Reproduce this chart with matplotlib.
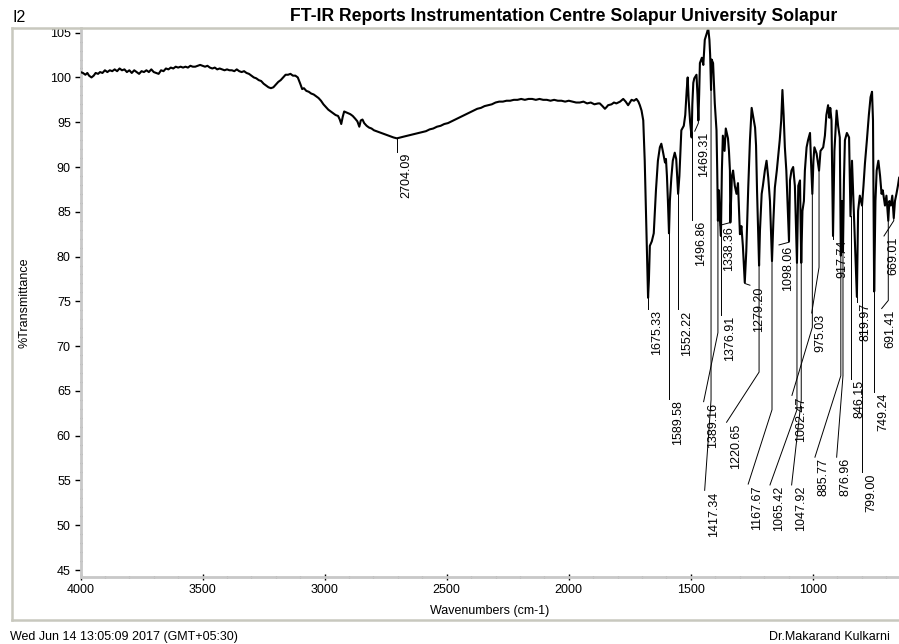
import numpy as np
import matplotlib
matplotlib.use("Agg")
import matplotlib.pyplot as plt
from matplotlib.lines import Line2D
from matplotlib.transforms import offset_copy

plt.rcParams['font.family'] = ['Liberation Sans', 'DejaVu Sans']

# spectrum: wavenumber (cm-1) and %T
wavenumber = [
    4000, 3990, 3980, 3972, 3965, 3955, 3946, 3938, 3928, 3920, 3910, 3900, 3890, 3880,
    3870, 3860, 3850, 3840, 3830, 3820, 3810, 3800, 3790, 3780, 3770, 3760, 3750, 3740,
    3730, 3720, 3710, 3700, 3690, 3680, 3670, 3660, 3650, 3640, 3630, 3620, 3610, 3600,
    3590, 3580, 3570, 3560, 3550, 3540, 3530, 3520, 3510, 3500, 3490, 3480, 3470, 3460,
    3450, 3440, 3430, 3420, 3410, 3400, 3390, 3380, 3370, 3360, 3350, 3340, 3330, 3320,
    3310, 3300, 3290, 3280, 3270, 3260, 3250, 3240, 3230, 3220, 3210, 3200, 3190, 3180,
    3170, 3160, 3150, 3140, 3130, 3120, 3110, 3100, 3092, 3085, 3075, 3065, 3055, 3045,
    3035, 3025, 3015, 3005, 2995, 2985, 2975, 2965, 2955, 2945, 2938, 2932, 2926, 2920,
    2912, 2905, 2895, 2885, 2875, 2866, 2858, 2852, 2845, 2838, 2828, 2818, 2808, 2798,
    2788, 2778, 2768, 2758, 2748, 2738, 2728, 2718, 2704.09, 2690, 2675, 2660, 2645, 2630,
    2615, 2600, 2585, 2570, 2555, 2540, 2525, 2510, 2495, 2480, 2465, 2450, 2435, 2420,
    2405, 2390, 2375, 2360, 2345, 2330, 2315, 2300, 2285, 2270, 2255, 2240, 2225, 2210,
    2195, 2180, 2165, 2150, 2135, 2120, 2105, 2090, 2075, 2060, 2045, 2030, 2015, 2000,
    1985, 1970, 1955, 1940, 1925, 1910, 1895, 1880, 1873, 1862, 1852, 1845, 1839, 1825,
    1815, 1805, 1790, 1777, 1767, 1757, 1750, 1743, 1733, 1723, 1715, 1709, 1702, 1695,
    1689, 1682, 1678, 1675.33, 1672, 1668, 1660, 1652, 1643, 1635, 1627, 1621, 1615, 1606,
    1602, 1598, 1594, 1589.58, 1586, 1580, 1574, 1566, 1560, 1556, 1552.22, 1547, 1539, 1529,
    1523, 1517, 1513, 1509, 1503, 1496.86, 1494, 1490, 1486, 1477, 1473, 1469.31, 1466, 1463,
    1455, 1449, 1443, 1434, 1429, 1424, 1421, 1417.34, 1415, 1409, 1402, 1395, 1392, 1389.16,
    1385, 1382, 1376.91, 1373, 1369, 1362, 1357, 1348, 1344, 1340, 1338.36, 1332, 1327, 1320,
    1313, 1307, 1299, 1293, 1287, 1279.20, 1273, 1265, 1258, 1251, 1246, 1237, 1233, 1229,
    1220.65, 1217, 1210, 1205, 1197, 1190, 1183, 1176, 1167.67, 1162, 1156, 1148, 1136, 1130,
    1125, 1120, 1115, 1109, 1098.06, 1094, 1088, 1081, 1074, 1065.42, 1060, 1053, 1047.92, 1043,
    1037, 1033, 1026, 1020, 1012, 1008, 1002.47, 998, 994, 985, 975.03, 969, 958, 951,
    945, 938, 933, 929, 924, 917.74, 912, 903, 897, 890, 885.77, 881, 876.96, 873,
    869, 861, 852, 846.15, 840, 834, 828, 819.97, 815, 808, 799.00, 793, 787, 779,
    771, 764, 758, 754, 749.24, 744, 739, 732, 725, 719, 714, 705, 699, 691.41,
    687, 681, 675, 669.01, 664, 658, 652, 647,
]
transmittance = [
    100.6, 100.5, 100.3, 100.5, 100.2, 100.0, 100.2, 100.5, 100.4, 100.6, 100.5, 100.8, 100.6, 100.8,
    100.7, 100.9, 100.7, 101.0, 100.8, 100.9, 100.6, 100.8, 100.5, 100.8, 100.6, 100.4, 100.7, 100.6,
    100.8, 100.6, 100.9, 100.6, 100.5, 100.4, 100.8, 100.7, 101.0, 100.9, 101.1, 101.0, 101.2, 101.1,
    101.2, 101.1, 101.2, 101.1, 101.3, 101.2, 101.2, 101.3, 101.4, 101.3, 101.2, 101.3, 101.1, 101.0,
    101.1, 100.9, 101.0, 100.9, 100.8, 100.9, 100.8, 100.8, 100.7, 100.9, 100.7, 100.6, 100.7, 100.5,
    100.4, 100.2, 100.0, 99.9, 99.7, 99.6, 99.3, 99.1, 98.9, 98.8, 98.9, 99.2, 99.5, 99.7,
    100.0, 100.3, 100.3, 100.4, 100.2, 100.2, 100.0, 99.3, 98.7, 98.8, 98.5, 98.4, 98.2, 98.1,
    97.9, 97.7, 97.4, 97.0, 96.7, 96.4, 96.2, 96.0, 95.8, 95.7, 95.3, 94.8, 95.6, 96.2,
    96.1, 96.0, 95.9, 95.7, 95.4, 95.1, 94.5, 95.2, 95.3, 94.9, 94.6, 94.4, 94.3, 94.1,
    94.0, 93.9, 93.8, 93.7, 93.6, 93.5, 93.4, 93.3, 93.2, 93.3, 93.4, 93.5, 93.6, 93.7,
    93.8, 93.9, 94.0, 94.2, 94.3, 94.5, 94.6, 94.8, 94.9, 95.1, 95.3, 95.5, 95.7, 95.9,
    96.1, 96.3, 96.5, 96.6, 96.8, 96.9, 97.0, 97.2, 97.3, 97.3, 97.4, 97.4, 97.5, 97.5,
    97.6, 97.5, 97.6, 97.6, 97.5, 97.6, 97.5, 97.5, 97.4, 97.5, 97.4, 97.4, 97.3, 97.4,
    97.3, 97.2, 97.2, 97.3, 97.1, 97.2, 97.0, 97.1, 97.1, 96.8, 96.5, 96.7, 96.9, 97.0,
    97.2, 97.1, 97.3, 97.6, 97.3, 96.9, 97.2, 97.5, 97.4, 97.6, 97.3, 96.9, 96.3, 95.2,
    90.7, 82.9, 78.4, 75.4, 77.3, 81.2, 81.7, 82.6, 87.4, 90.7, 92.2, 92.6, 91.8, 90.5,
    90.9, 89.0, 86.2, 82.6, 86.2, 88.8, 90.7, 91.6, 90.9, 89.0, 87.0, 89.0, 94.1, 94.6,
    95.8, 98.6, 100.0, 97.5, 95.0, 93.3, 97.0, 99.4, 99.9, 100.3, 98.1, 95.2, 98.1, 101.6,
    102.2, 101.4, 104.2, 105.0, 105.5, 104.2, 102.5, 98.6, 102.0, 101.6, 97.1, 94.1, 89.6, 84.0,
    87.4, 84.6, 82.3, 89.6, 93.5, 91.8, 94.3, 93.2, 91.8, 89.6, 83.8, 89.0, 89.6, 87.9,
    87.0, 88.2, 82.5, 83.4, 81.2, 77.1, 80.6, 87.7, 93.0, 96.6, 95.8, 94.4, 92.4, 87.4,
    79.0, 82.9, 87.0, 87.9, 89.6, 90.7, 88.8, 86.2, 79.5, 84.0, 87.7, 89.6, 93.0, 95.2,
    98.6, 95.8, 92.2, 89.6, 81.7, 88.5, 89.6, 90.0, 87.9, 79.3, 87.9, 88.5, 79.3, 85.1,
    86.2, 89.6, 92.2, 93.0, 93.8, 90.7, 87.0, 90.7, 92.2, 91.5, 89.6, 91.8, 92.2, 93.5,
    95.8, 96.9, 95.5, 96.6, 95.2, 82.3, 91.8, 96.3, 94.6, 93.3, 80.1, 86.2, 80.6, 88.5,
    93.0, 93.8, 93.3, 84.5, 90.7, 86.2, 81.7, 75.5, 85.1, 86.8, 85.7, 87.9, 90.4, 93.0,
    95.8, 97.8, 98.4, 95.2, 76.1, 86.2, 89.6, 90.7, 89.0, 87.0, 87.4, 85.7, 86.8, 84.0,
    86.2, 85.7, 86.8, 84.3, 86.2, 87.0, 87.9, 88.8,
]

# labelled peaks and where their leader lines bend / end
peak_wn = [2704.09, 1675.33, 1589.58, 1552.22, 1496.86, 1469.31, 1417.34, 1389.16, 1376.91,
           1338.36, 1279.20, 1220.65, 1167.67, 1098.06, 1065.42, 1047.92, 1002.47, 975.03,
           917.74, 885.77, 876.96, 846.15, 819.97, 799.00, 749.24, 691.41, 669.01]
bend_t = [91.9, 74.1, 64.1, 74.1, 84.1, 94.9, 64.0, 71.5, 73.5,
          83.8, 77.0, 67.1, 62.9, 81.6, 62.9, 64.0, 72.1, 78.8,
          82.0, 66.7, 66.7, 66.3, 74.9, 55.9, 64.9, 75.1, 84.0]
label_wn = [2704.09, 1675.33, 1589.58, 1552.22, 1496.86, 1484.0, 1443.5, 1447.7, 1376.91,
            1379.6, 1258.0, 1353.7, 1265.2, 1139.0, 1176.0, 1087.3, 1086.0, 1005.0,
            917.74, 991.8, 902.9, 846.15, 819.97, 799.00, 749.24, 718.4, 709.0]
label_t = [91.7, 74.1, 64.1, 74.1, 84.1, 94.0, 53.9, 63.8, 73.5,
           83.5, 76.8, 61.5, 54.6, 81.3, 54.5, 54.5, 64.5, 73.7,
           82.0, 57.6, 57.6, 66.3, 74.9, 55.9, 64.9, 74.2, 82.3]

W, H = 899, 644
fig = plt.figure(figsize=(W / 100, H / 100), dpi=100)
ax = fig.add_axes([80.5 / W, 66.7 / H, (W - 80.5) / W, (616 - 66.7) / H])

ax.plot(wavenumber, transmittance, color='black', lw=1.5, zorder=3)

# peak labels with leader lines
order = np.argsort(wavenumber)
wn_sorted = np.asarray(wavenumber)[order]
t_sorted = np.asarray(transmittance)[order]
txt_tf = offset_copy(ax.transData, fig=fig, x=3, y=-1, units='dots')
for wn, bt, lw_, lt in zip(peak_wn, bend_t, label_wn, label_t):
    t_peak = np.interp(wn, wn_sorted, t_sorted)
    ax.plot([wn, wn, lw_], [t_peak, bt, lt], color='black', lw=0.7, zorder=2)
    ax.text(lw_, lt, f"{wn:.2f}", rotation=90, ha='left', va='top',
            fontsize=9, transform=txt_tf)

ax.set_xlim(4000, 647.5)
ax.set_ylim(44.19, 105.52)
ax.set_xticks(np.arange(4000, 999, -500))
ax.set_xticks(np.arange(4000, 647, -100), minor=True)
ax.set_yticks(np.arange(45, 106, 5))
ax.set_yticks(np.arange(45, 106, 1), minor=True)
ax.tick_params(axis='both', which='major', labelsize=9, length=4, width=1, color='black')
ax.tick_params(axis='x', which='major', direction='inout', pad=3)
ax.tick_params(axis='y', which='major', direction='out', pad=3)
ax.tick_params(axis='both', which='minor', length=2, width=1, direction='inout', color='black')

for side in ('top', 'right'):
    ax.spines[side].set_visible(False)
for side in ('left', 'bottom'):
    ax.spines[side].set_color('#c8c8c8')
    ax.spines[side].set_linewidth(2)

ax.set_xlabel('Wavenumbers (cm-1)', fontsize=9, labelpad=6)
ax.set_ylabel('%Transmittance', fontsize=9, labelpad=14)

# outer frame
frame = '#c8c8be'
fig.add_artist(Line2D([12 / W, 12 / W], [1 - 28 / H, 1 - 620 / H], color=frame, lw=1.8))
fig.add_artist(Line2D([12 / W, 1], [1 - 28 / H, 1 - 28 / H], color=frame, lw=1.8))
fig.add_artist(Line2D([12 / W, 1], [1 - 620 / H, 1 - 620 / H], color=frame, lw=1.8))

fig.text(12 / W, 1 - 17 / H, 'I2', fontsize=11.5, ha='left', va='center')
fig.text(837 / W, 1 - 16.5 / H,
         'FT-IR Reports Instrumentation Centre Solapur University Solapur',
         fontsize=12.7, fontweight='bold', ha='right', va='center')
fig.text(10 / W, 1 - 637 / H, 'Wed Jun 14 13:05:09 2017 (GMT+05:30)',
         fontsize=9, ha='left', va='center')
fig.text(890 / W, 1 - 637 / H, 'Dr.Makarand Kulkarni',
         fontsize=9, ha='right', va='center')

fig.savefig('out.png', dpi=100)
